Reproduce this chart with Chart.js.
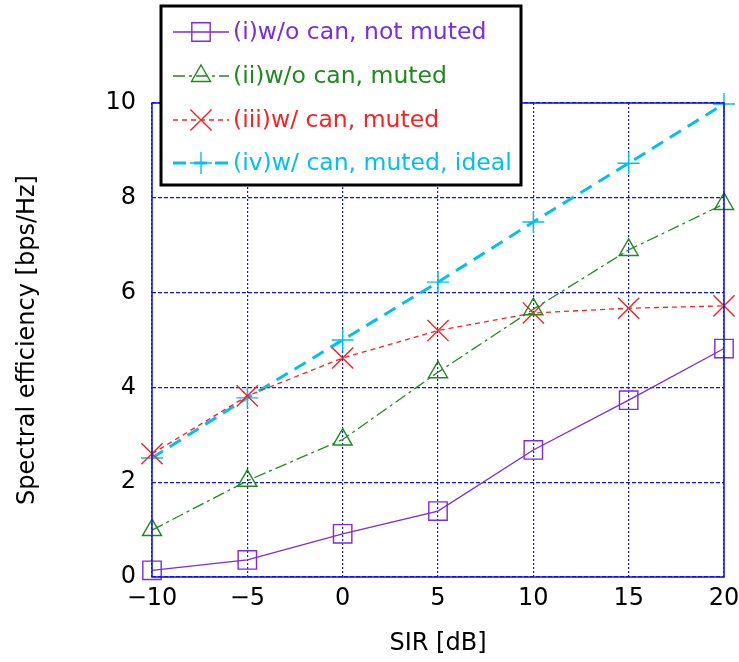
<!DOCTYPE html>
<html>
<head>
<meta charset="utf-8">
<script src="https://cdn.jsdelivr.net/npm/chart.js@4.4.0/dist/chart.umd.min.js"></script>
<style>
  html, body { margin: 0; padding: 0; background: #fff; }
  #wrap { width: 739px; height: 662px; }
</style>
</head>
<body>
<div id="wrap"><canvas id="sirChart" width="739" height="662"></canvas></div>
<script>
const sirValues   = [-10, -5, 0, 5, 10, 15, 20];
const notMuted    = [0.14, 0.36, 0.91, 1.39, 2.68, 3.73, 4.82];
const woCanMuted  = [0.99, 2.03, 2.90, 4.32, 5.65, 6.90, 7.87];
const wCanMuted   = [2.60, 3.82, 4.62, 5.20, 5.57, 5.67, 5.72];
const wCanIdeal   = [2.51, 3.78, 5.00, 6.22, 7.49, 8.73, 9.98];
const seriesNames = ['(i)w/o can, not muted', '(ii)w/o can, muted', '(iii)w/ can, muted', '(iv)w/ can, muted, ideal'];
const xTicks = [-10, -5, 0, 5, 10, 15, 20];
const yTicks = [0, 2, 4, 6, 8, 10];

const FONT = '"DejaVu Sans", sans-serif';
const GRID = '#1010f0';

const pts = vals => vals.map((v, i) => ({ x: sirValues[i], y: v }));

const styles = [
  { color: '#7b2be0', dash: [], width: 1.3, point: 'rect', r: 13 },
  { color: '#1d8a1d', dash: [12, 4, 3, 4], width: 1.3, point: 'triangle', r: 11 },
  { color: '#ff1f1f', dash: [5, 4], width: 1.3, point: 'crossRot', r: 15 },
  { color: '#00c0f0', dash: [13, 8], width: 3, point: 'cross', r: 11 },
];
const allSeries = [notMuted, woCanMuted, wCanMuted, wCanIdeal];

const datasets = allSeries.map((vals, i) => ({
  label: seriesNames[i],
  data: pts(vals),
  borderColor: styles[i].color,
  borderWidth: styles[i].width,
  borderDash: styles[i].dash,
  backgroundColor: 'rgba(0,0,0,0)',
  pointStyle: styles[i].point,
  pointRadius: styles[i].r,
  pointBorderWidth: 1.4,
  pointBorderColor: styles[i].color,
  pointBackgroundColor: 'rgba(0,0,0,0)',
  tension: 0,
  clip: false,
}));

// plot frame + hand-placed legend box (it overlaps the plot in the original)
const framePlugin = {
  id: 'frame',
  afterDraw(chart) {
    const { ctx, chartArea: a } = chart;
    ctx.save();
    ctx.strokeStyle = GRID;
    ctx.lineWidth = 1.5;
    ctx.strokeRect(a.left, a.top, a.right - a.left, a.bottom - a.top);

    // legend
    ctx.fillStyle = '#fff';
    ctx.fillRect(161, 6, 360, 179);
    ctx.strokeStyle = '#000';
    ctx.lineWidth = 3;
    ctx.strokeRect(161, 6, 360, 179);
    const rows = [32, 76, 120, 163];
    chart.data.datasets.forEach((ds, i) => {
      const y = rows[i];
      ctx.strokeStyle = ds.borderColor;
      ctx.lineWidth = ds.borderWidth;
      ctx.setLineDash(ds.borderDash);
      ctx.beginPath();
      ctx.moveTo(173, y);
      ctx.lineTo(229, y);
      ctx.stroke();
      ctx.setLineDash([]);
      ctx.lineWidth = 1.4;
      ctx.fillStyle = 'rgba(0,0,0,0)';
      Chart.helpers.drawPoint(ctx, { pointStyle: ds.pointStyle, radius: ds.pointRadius, borderWidth: 1.4 }, 201, y);
      ctx.fillStyle = ds.borderColor;
      ctx.font = '23.5px ' + FONT;
      ctx.textAlign = 'left';
      ctx.textBaseline = 'middle';
      ctx.fillText(ds.label, 233, y + 1);
    });
    ctx.restore();
  }
};

new Chart(document.getElementById('sirChart'), {
  type: 'line',
  data: { datasets },
  options: {
    responsive: false,
    animation: false,
    layout: { autoPadding: false, padding: { top: 103, right: 15, left: 0, bottom: 0 } },
    plugins: { legend: { display: false }, tooltip: { enabled: false } },
    scales: {
      x: {
        type: 'linear',
        min: xTicks[0], max: xTicks[xTicks.length - 1],
        afterBuildTicks: s => { s.ticks = xTicks.map(v => ({ value: v })); },
        afterFit: s => { s.height = 85; s.paddingRight = 15; },
        ticks: {
          color: '#000',
          font: { family: FONT, size: 24 },
          padding: 7,
          maxRotation: 0,
          callback: v => String(v).replace('-', '\u2212'),
        },
        grid: { color: GRID, lineWidth: 1.2, drawTicks: false },
        border: { display: false, dash: [2, 2] },
        title: {
          display: true, text: 'SIR [dB]', color: '#000',
          font: { family: FONT, size: 24 }, padding: { top: 0, bottom: 4 },
        },
      },
      y: {
        min: yTicks[0], max: yTicks[yTicks.length - 1],
        afterBuildTicks: s => { s.ticks = yTicks.map(v => ({ value: v })); },
        afterFit: s => { s.width = 152; },
        ticks: { color: '#000', font: { family: FONT, size: 24 }, padding: 16 },
        grid: { color: GRID, lineWidth: 1.2, drawTicks: false },
        border: { display: false, dash: [4, 2] },
        title: {
          display: true, text: 'Spectral efficiency [bps/Hz]', color: '#000',
          font: { family: FONT, size: 24 }, padding: { top: 13, bottom: 0 },
        },
      },
    },
  },
  plugins: [framePlugin],
});
</script>
</body>
</html>
